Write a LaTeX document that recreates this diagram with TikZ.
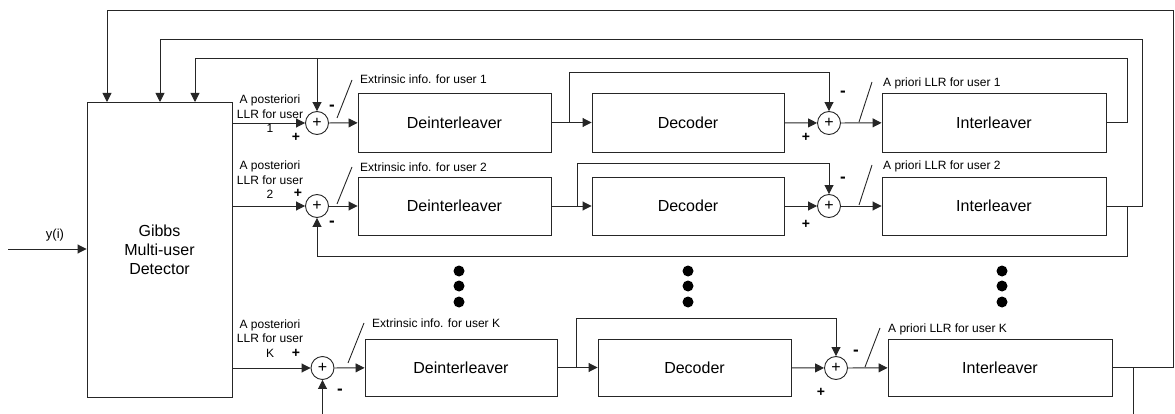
\documentclass[tikz,border=0pt]{standalone}
\usepackage{fontspec}
\setmainfont{Liberation Sans}
\usetikzlibrary{arrows.meta}
\begin{document}
\begin{tikzpicture}[x=1pt,y=-1pt,
  ln/.style={draw=black!85,line width=0.9pt},
  arr/.style={ln,-{Triangle[length=9pt,width=9pt]}},
  blk/.style={ln,rectangle,inner sep=0pt,font=\fontsize{16}{19}\selectfont},
  sumnode/.style={ln,circle,minimum size=23pt,inner sep=0pt,font=\fontsize{16}{16}\selectfont},
  lbl/.style={font=\fontsize{12}{14.5}\selectfont,inner sep=0pt},
  sgn/.style={font=\fontsize{14}{14}\selectfont\bfseries,inner sep=0pt},
  msgn/.style={font=\fontsize{17}{17}\selectfont\bfseries,inner sep=0pt},
  dotn/.style={circle,fill=black,minimum size=11pt,inner sep=0pt},
  slash/.style={ln}]
\useasboundingbox (0,0) rectangle (1175,414);
% detector
\node[blk,minimum width=145pt,minimum height=295pt,align=center] (det) at (159.5,249.5) {Gibbs\\Multi-user\\Detector};
\coordinate (yin) at (8,249);
\draw[arr] (yin) -- (det.west |- yin);
\node[font=\fontsize{13}{13}\selectfont] (ylab) at (55,235) {y(i)};
% boxes
\node[blk,minimum width=193pt,minimum height=59pt] (deint1) at (454.5,122.5) {Deinterleaver};
\node[blk,minimum width=192pt,minimum height=59pt] (dec1) at (688,122.5) {Decoder};
\node[blk,minimum width=224pt,minimum height=59pt] (int1) at (994,122.5) {Interleaver};
\node[blk,minimum width=193pt,minimum height=58pt] (deint2) at (454.5,206) {Deinterleaver};
\node[blk,minimum width=192pt,minimum height=58pt] (dec2) at (688,206) {Decoder};
\node[blk,minimum width=224pt,minimum height=58pt] (int2) at (994,206) {Interleaver};
\node[blk,minimum width=192pt,minimum height=57pt] (deintK) at (461,367.5) {Deinterleaver};
\node[blk,minimum width=193pt,minimum height=57pt] (decK) at (694.5,367.5) {Decoder};
\node[blk,minimum width=224pt,minimum height=57pt] (intK) at (1000,367.5) {Interleaver};
% sums
\node[sumnode] (sA1) at (317,123) {+};
\node[sumnode] (sA2) at (317,206) {+};
\node[sumnode] (sAK) at (322.5,368) {+};
\node[sumnode] (sB1) at (829,123) {+};
\node[sumnode] (sB2) at (829,206) {+};
\node[sumnode] (sBK) at (836,368) {+};
% detector outputs
\draw[arr] (det.east |- sA1) -- (sA1);
\draw[arr] (det.east |- sA2) -- (sA2);
\draw[arr] (det.east |- sAK) -- (sAK);
\node[lbl,align=center] (ap1) at (270,114) {A posteriori\\LLR for user\\1};
\node[lbl,align=center] (ap2) at (270,180) {A posteriori\\LLR for user\\2};
\node[lbl,align=center] (apK) at (270,331) {A posteriori\\LLR for user};
\node[lbl] (apKk) at (270,353) {K};
% sum -> deinterleaver
\draw[arr] (sA1) -- (deint1);
\draw[arr] (sA2) -- (deint2);
\draw[arr] (sAK) -- (deintK);
% deinterleaver -> decoder
\draw[arr] (deint1) -- (dec1);
\draw[arr] (deint2) -- (dec2);
\draw[arr] (deintK) -- (decK);
% decoder -> sum
\draw[arr] (dec1) -- (sB1);
\draw[arr] (dec2) -- (sB2);
\draw[arr] (decK) -- (sBK);
% sum -> interleaver
\draw[arr] (sB1) -- (int1);
\draw[arr] (sB2) -- (int2);
\draw[arr] (sBK) -- (intK);
% decoder bypass
\coordinate (bp1) at (569,72);
\coordinate (bp2) at (577,163);
\coordinate (bpK) at (576,318);
\draw[arr] (deint1.east -| bp1) -- (bp1) -| (sB1.north);
\draw[arr] (deint2.east -| bp2) -- (bp2) -| (sB2.north);
\draw[arr] (deintK.east -| bpK) -- (bpK) -| (sBK.north);
% feedback to detector
\coordinate (fb1) at (1127,58);
\coordinate (fb2) at (1142,39);
\coordinate (fbK) at (1173,10);
\coordinate (din1) at (195,102);
\coordinate (din2) at (160,102);
\coordinate (dinK) at (107,102);
\draw[arr] (int1.east) -| (fb1) -| (din1);
\draw[arr] (int2.east) -| (fb2) -| (din2);
\draw[arr] (intK.east) -| (fbK) -| (dinK);
% feedback to first sums
\draw[arr] (sA1.north |- fb1) -- (sA1.north);
\coordinate (br2) at (1127,256);
\draw[arr] (int2.east -| br2) -- (br2) -| (sA2.south);
\coordinate (kin) at (322.5,414);
\coordinate (kout) at (1133,414);
\draw[arr] (kin) -- (sAK.south);
\draw[ln] (intK.east -| kout) -- (kout);
% slashes and labels
\coordinate (e1a) at (337,118); \coordinate (e1b) at (352,80);
\coordinate (e2a) at (337,204); \coordinate (e2b) at (352,167);
\coordinate (eKa) at (348,363); \coordinate (eKb) at (364,323);
\draw[slash] (e1a) -- (e1b);
\draw[slash] (e2a) -- (e2b);
\draw[slash] (eKa) -- (eKb);
\node[lbl,anchor=west] (ex1) at (360,79) {Extrinsic info. for user 1};
\node[lbl,anchor=west] (ex2) at (360,167) {Extrinsic info. for user 2};
\node[lbl,anchor=west] (exK) at (372,323) {Extrinsic info. for user K};
\coordinate (p1a) at (859,122); \coordinate (p1b) at (872,82);
\coordinate (p2a) at (859,205); \coordinate (p2b) at (872,165);
\coordinate (pKa) at (865,367); \coordinate (pKb) at (880,328);
\draw[slash] (p1a) -- (p1b);
\draw[slash] (p2a) -- (p2b);
\draw[slash] (pKa) -- (pKb);
\node[lbl,anchor=west] (pr1) at (883,83) {A priori LLR for user 1};
\node[lbl,anchor=west] (pr2) at (883,166) {A priori LLR for user 2};
\node[lbl,anchor=west] (prK) at (888,329) {A priori LLR for user K};
% signs
\node[sgn] (pA1) at (296,137) {+};
\node[sgn] (pA2) at (298,193) {+};
\node[sgn] (pAK) at (296,353) {+};
\node[msgn] (mA1) at (332,108) {-};
\node[msgn] (mA2) at (332,224) {-};
\node[msgn] (mAK) at (340,392) {-};
\node[sgn] (pB1) at (806,137) {+};
\node[sgn] (pB2) at (806,224) {+};
\node[sgn] (pBK) at (821,392) {+};
\node[msgn] (mB1) at (843,94) {-};
\node[msgn] (mB2) at (843,180) {-};
\node[msgn] (mBK) at (856,353) {-};
% dots
\foreach \cx/\nm in {459/a,688/b,1002/c}{
  \node[dotn] (d1\nm) at (\cx,271) {};
  \node[dotn] (d2\nm) at (\cx,286) {};
  \node[dotn] (d3\nm) at (\cx,302) {};
}
\end{tikzpicture}
\end{document}
